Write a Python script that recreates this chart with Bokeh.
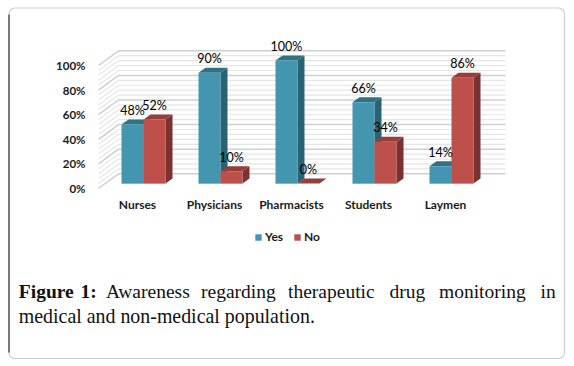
from bokeh.plotting import figure
from bokeh.embed import file_html
from bokeh.resources import INLINE
from bokeh.core.properties import value
from bokeh.models import (Range1d, LinearAxis, FixedTicker, PrintfTickFormatter, Label,
                          BoxAnnotation, Legend, LegendItem)

categories = ["Nurses", "Physicians", "Pharmacists", "Students", "Laymen"]
yes_values = [48, 90, 100, 66, 14]
no_values = [52, 10, 0, 34, 86]
y_ticks = [0, 20, 40, 60, 80, 100]
minor_levels = [4, 8, 12, 16, 24, 28, 32, 36, 44, 48, 52, 56, 64, 68, 72, 76, 84, 88, 92, 96]
caption_line1 = [("Figure", 18.3, True), ("1:", 80, True), ("Awareness", 105.5, False), ("regarding", 200.5, False),
                 ("therapeutic", 287.5, False), ("drug", 389, False), ("monitoring", 438.5, False), ("in", 540, False)]
caption_line2 = "medical and non-medical population."

YES, YES_TOP, YES_SIDE, YES_EDGE = "#4395B0", "#2F7287", "#296274", "#7DB9CC"
NO, NO_TOP, NO_SIDE, NO_EDGE = "#BE504C", "#953E3B", "#7B3130", "#D58A87"
FONT = "Lato"
SERIF = "Liberation Serif"

# the frame fills the canvas
W, H = 574, 366
PX_CAT, PY_BASE, PX_PER_CAT, PY_PER_PCT = 143, 183, 77, 1.23

xr = Range1d((0 - PX_CAT) / PX_PER_CAT, (W - PX_CAT) / PX_PER_CAT)
yr = Range1d((PY_BASE - H) / PY_PER_PCT, PY_BASE / PY_PER_PCT)

p = figure(width=W, height=H, output_backend="svg", toolbar_location=None,
           x_range=xr, y_range=yr, x_axis_location=None, y_axis_location=None,
           min_border_left=0, min_border_right=0, min_border_top=0, min_border_bottom=0,
           outline_line_color=None, background_fill_color="white", border_fill_color="white")
p.grid.visible = False

# axes sit inside the frame
p.extra_y_ranges = {"wall": Range1d((188 - H) / PY_PER_PCT, 188 / PY_PER_PCT)}
p.extra_x_ranges = {"cat": Range1d((0 - 137) / PX_PER_CAT, (W - 137) / PX_PER_CAT)}
ya = LinearAxis(y_range_name="wall", ticker=FixedTicker(ticks=y_ticks),
                formatter=PrintfTickFormatter(format="%d%%"),
                fixed_location=(95 - PX_CAT) / PX_PER_CAT)
xa = LinearAxis(x_range_name="cat", ticker=FixedTicker(ticks=list(range(len(categories)))),
                major_label_overrides={i: c for i, c in enumerate(categories)},
                fixed_location=(PY_BASE - 185) / PY_PER_PCT)
for a, size in ((ya, "11.5px"), (xa, "12px")):
    a.axis_line_color = None
    a.major_tick_line_color = None
    a.minor_tick_line_color = None
    a.major_label_text_font = FONT
    a.major_label_text_font_style = "bold"
    a.major_label_text_font_size = size
    a.major_label_text_color = "#1a1a1a"
ya.major_label_standoff = 4
xa.major_label_standoff = 5
p.add_layout(ya, "left")
p.add_layout(xa, "below")

# walls
WALL_DX = 20 / PX_PER_CAT
WALL_X0 = (98 - PX_CAT) / PX_PER_CAT
WALL_X2 = (505 - PX_CAT) / PX_PER_CAT
FRONT_DV = (PY_BASE - 188) / PY_PER_PCT
BACK_DV = (PY_BASE - 173.3) / PY_PER_PCT


def wall_lines(levels):
    xs = [[WALL_X0, WALL_X0 + WALL_DX, WALL_X2] for _ in levels]
    ys = [[v + FRONT_DV, v + BACK_DV, v + BACK_DV] for v in levels]
    return xs, ys


mx, my = wall_lines(minor_levels)
p.multi_line(mx, my, line_color="#e6e6e6", line_width=1.2)
gx, gy = wall_lines(y_ticks)
p.multi_line(gx, gy, line_color="#cfcfcf", line_width=1.5)

# bars
BAR_W = 22 / PX_PER_CAT
DX = 7 / PX_PER_CAT
DV = 5 / PY_PER_PCT
yes_x = [i - BAR_W / 2 for i in range(len(categories))]
no_x = [i + BAR_W / 2 for i in range(len(categories))]


def faces(xc, vals):
    tx, ty, sx, sy = [], [], [], []
    for x, v in zip(xc, vals):
        l, r = x - BAR_W / 2, x + BAR_W / 2
        tx.append([l, r, r + DX, l + DX])
        ty.append([v, v, v + DV, v + DV])
        sx.append([r, r + DX, r + DX, r])
        sy.append([0, DV, v + DV, v])
    return tx, ty, sx, sy


def edges(xc, vals, color):
    kept = [x for x, v in zip(xc, vals) if v > 0]
    p.segment(x0=[x - BAR_W / 2 for x in kept], x1=[x + BAR_W / 2 for x in kept], y0=[0] * len(kept),
              y1=[0] * len(kept), line_color=color, line_width=1.2)


ytx, yty, ysx, ysy = faces(yes_x, yes_values)
ntx, nty, nsx, nsy = faces(no_x, no_values)
p.patches(ysx, ysy, fill_color=YES_SIDE, line_color=None)
p.patches(ytx, yty, fill_color=YES_TOP, line_color=None)
r_yes = p.vbar(x=yes_x, top=yes_values, bottom=0, width=BAR_W, fill_color=YES, line_color=None)
edges(yes_x, yes_values, YES_EDGE)
p.patches(nsx, nsy, fill_color=NO_SIDE, line_color=None)
p.patches(ntx, nty, fill_color=NO_TOP, line_color=None)
r_no = p.vbar(x=no_x, top=no_values, bottom=0, width=BAR_W, fill_color=NO, line_color=None)
edges(no_x, no_values, NO_EDGE)

# value labels
for xs, vals in ((yes_x, yes_values), (no_x, no_values)):
    p.text(x=xs, y=vals, text=[f"{v}%" for v in vals], text_font=value(FONT),
           text_font_size="12.5px", text_color="#000000", text_align="center",
           text_baseline="middle", y_offset=-14)

# legend
legend = Legend(items=[LegendItem(label="Yes", renderers=[r_yes]), LegendItem(label="No", renderers=[r_no])],
                orientation="horizontal", location=(254, H - 244),
                glyph_width=8, glyph_height=8, label_standoff=3, spacing=8, padding=0, margin=0,
                border_line_color=None, background_fill_alpha=0,
                label_text_font=FONT, label_text_font_style="bold", label_text_font_size="12px",
                label_text_color="#1a1a1a", label_height=12)
p.add_layout(legend, "center")


# caption
def caption(text, px, py, bold=False, size="19.5px"):
    p.add_layout(Label(x=px, y=H - py, x_units="screen", y_units="screen", text=text,
                       text_font=SERIF, text_font_size=size, text_color="#111111",
                       text_font_style="bold" if bold else "normal", text_baseline="middle"))


for word, px, bold in caption_line1:
    caption(word, px, 291, bold)
caption(caption_line2, 18.3, 315, size="19.9px")

# card border
p.add_layout(BoxAnnotation(left=8.5, right=564, top=7.5, bottom=358, left_units="canvas", right_units="canvas",
                           top_units="canvas", bottom_units="canvas", fill_alpha=0, line_color="#5e5e5e",
                           line_width=1.2, border_radius=6))
p.add_layout(BoxAnnotation(left=8, right=9, top=14, bottom=352, left_units="canvas", right_units="canvas",
                           top_units="canvas", bottom_units="canvas", fill_color="#111111", fill_alpha=1,
                           line_color=None))

open("out.html", "w").write(file_html(p, INLINE))
